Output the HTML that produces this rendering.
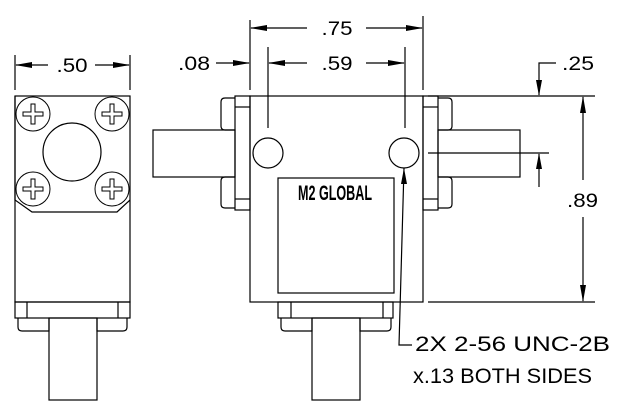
<!DOCTYPE html>
<html><head><meta charset="utf-8"><style>
html,body{margin:0;padding:0;background:#fff;}
svg{display:block;}
text{font-family:"Liberation Sans",sans-serif;fill:#000;}
</style></head><body>
<svg width="625" height="415" viewBox="0 0 625 415" xmlns="http://www.w3.org/2000/svg">
<defs>
<g id="scr">
<circle cx="0" cy="0" r="17" fill="none" stroke="#000" stroke-width="1"/>
<path d="M-2,-10 H2 V-2 H10 V2 H2 V10 H-2 V2 H-10 V-2 H-2 Z" fill="none" stroke="#000" stroke-width="1"/>
</g>
</defs>
<g fill="none" stroke="#000" stroke-width="1.2">
<line x1="15" y1="55" x2="15" y2="90"/>
<line x1="130" y1="55" x2="130" y2="90"/>
<rect x="15" y="96" width="115" height="206"/>
<path d="M15,96 V200 L32,212 H117 L130,200"/>
<rect x="15" y="302" width="115" height="16"/>
<line x1="27" y1="302" x2="27" y2="318"/>
<line x1="118" y1="302" x2="118" y2="318"/>
<path d="M18,318 V327 Q18,331 22,331 H49 V318"/>
<path d="M127,318 V327 Q127,331 123,331 H97 V318"/>
<rect x="49" y="318" width="48" height="82"/>
<circle cx="72" cy="152" r="29"/>
</g>
<use href="#scr" x="33" y="114"/>
<use href="#scr" x="112" y="114"/>
<use href="#scr" x="33" y="189"/>
<use href="#scr" x="112" y="189"/>
<g stroke="#000" stroke-width="1.2" fill="none">
<line x1="16" y1="65" x2="48" y2="65"/>
<line x1="95" y1="65" x2="129" y2="65"/>
</g>
<polygon points="15,65 32,62 32,68"/>
<polygon points="130,65 113,62 113,68"/>
<text x="72" y="72" font-size="19" text-anchor="middle" textLength="31" lengthAdjust="spacingAndGlyphs">.50</text>

<g fill="none" stroke="#000" stroke-width="1.2">
<rect x="250" y="96" width="173" height="206"/>
<rect x="235" y="96" width="15" height="114"/>
<line x1="235" y1="107" x2="250" y2="107"/>
<line x1="235" y1="199" x2="250" y2="199"/>
<path d="M235,98 H225 Q221,98 221,102 V126 Q221,130 225,130 H235"/>
<path d="M235,177 H225 Q221,177 221,181 V204 Q221,208 225,208 H235"/>
<rect x="153" y="130" width="82" height="47"/>
<rect x="423" y="96" width="15" height="114"/>
<line x1="423" y1="107" x2="438" y2="107"/>
<line x1="423" y1="199" x2="438" y2="199"/>
<path d="M438,98 H448 Q452,98 452,102 V126 Q452,130 448,130 H438"/>
<path d="M438,177 H448 Q452,177 452,181 V204 Q452,208 448,208 H438"/>
<rect x="438" y="130" width="82" height="47"/>
<circle cx="268" cy="153" r="15"/>
<circle cx="404" cy="153" r="15"/>
<rect x="278" y="178" width="116" height="115"/>
<rect x="278" y="302" width="115" height="16"/>
<line x1="291" y1="302" x2="291" y2="318"/>
<line x1="383" y1="302" x2="383" y2="318"/>
<path d="M281,318 V327 Q281,331 285,331 H312 V318"/>
<path d="M391,318 V327 Q391,331 387,331 H360 V318"/>
<rect x="312" y="318" width="48" height="82"/>
<line x1="250" y1="20" x2="250" y2="90"/>
<line x1="423" y1="16" x2="423" y2="90"/>
<line x1="268" y1="47" x2="268" y2="128"/>
<line x1="405" y1="47" x2="405" y2="128"/>
<line x1="251" y1="28" x2="307" y2="28"/>
<line x1="366" y1="28" x2="422" y2="28"/>
<line x1="269" y1="63" x2="307" y2="63"/>
<line x1="366" y1="63" x2="404" y2="63"/>
<line x1="216" y1="63" x2="249" y2="63"/>
<line x1="428" y1="96" x2="595" y2="96"/>
<line x1="428" y1="302" x2="595" y2="302"/>
<line x1="428" y1="153" x2="549" y2="153"/>
<line x1="583" y1="97" x2="583" y2="180"/>
<line x1="583" y1="217" x2="583" y2="301"/>
<path d="M556,63 H539 V95"/>
<line x1="539" y1="154" x2="539" y2="187"/>
<path d="M404,168 L399,345 H412"/>
</g>
<polygon points="250,28 267,25 267,31"/>
<polygon points="423,28 406,25 406,31"/>
<polygon points="268,63 285,60 285,66"/>
<polygon points="405,63 388,60 388,66"/>
<polygon points="250,63 233,60 233,66"/>
<polygon points="583,96 580,113 586,113"/>
<polygon points="583,302 580,285 586,285"/>
<polygon points="539,96 536,80 542,80"/>
<polygon points="539,153 536,169 542,169"/>
<polygon points="404,168 401,184 407,184"/>
<text x="337" y="35" font-size="19" text-anchor="middle" textLength="31" lengthAdjust="spacingAndGlyphs">.75</text>
<text x="337" y="70" font-size="19" text-anchor="middle" textLength="31" lengthAdjust="spacingAndGlyphs">.59</text>
<text x="178" y="70" font-size="19" textLength="32" lengthAdjust="spacingAndGlyphs">.08</text>
<text x="562" y="70" font-size="19" textLength="32" lengthAdjust="spacingAndGlyphs">.25</text>
<text x="567" y="207" font-size="19" textLength="31" lengthAdjust="spacingAndGlyphs">.89</text>
<text x="298" y="200" font-size="21" font-weight="bold" textLength="74" lengthAdjust="spacingAndGlyphs">M2 GLOBAL</text>
<text x="415" y="351" font-size="21" textLength="195" lengthAdjust="spacingAndGlyphs">2X 2-56 UNC-2B</text>
<text x="413" y="383" font-size="21" textLength="179" lengthAdjust="spacingAndGlyphs">x.13 BOTH SIDES</text>
</svg>
</body></html>
